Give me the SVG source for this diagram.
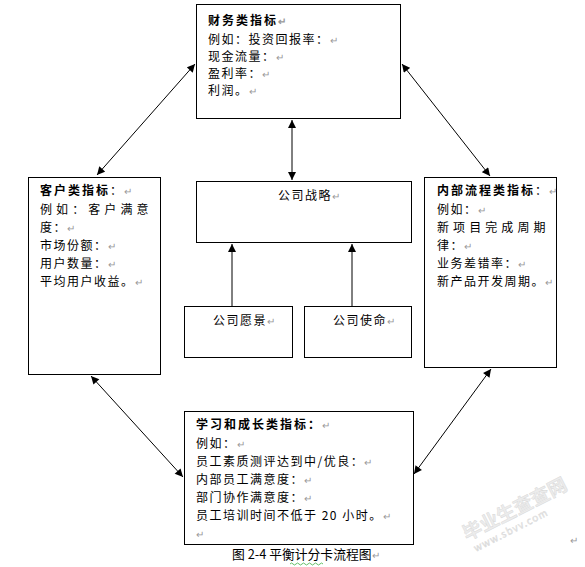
<svg xmlns="http://www.w3.org/2000/svg" width="585" height="567" viewBox="0 0 585 567">
<style>
.box{fill:#fff;stroke:#000;stroke-width:1}
.t{font-family:"Noto Sans CJK SC","Noto Sans CJK JP",sans-serif;font-size:12px;fill:#000;letter-spacing:1.5px}
.b{font-weight:bold;letter-spacing:2px}
.pm{fill:#999;font-size:10px;letter-spacing:0}
.con{stroke:#000;stroke-width:1;fill:none}
.wm{font-family:"Noto Sans CJK SC",sans-serif;fill:#ececec;stroke:#d6d6d6;stroke-width:0.4}
</style>
<defs>
<marker id="ah" viewBox="0 0 10 10" refX="10" refY="5" markerWidth="9" markerHeight="8" markerUnits="userSpaceOnUse" orient="auto-start-reverse">
<path d="M0,0 L10,5 L0,10 z" fill="#000"/>
</marker>
</defs>
<rect width="585" height="567" fill="#fff"/>

<g id="connectors">
<line class="con" x1="292" y1="120" x2="292" y2="180" marker-start="url(#ah)" marker-end="url(#ah)"/>
<line class="con" x1="97" y1="175" x2="195" y2="64" marker-start="url(#ah)" marker-end="url(#ah)"/>
<line class="con" x1="402" y1="64" x2="490" y2="176" marker-start="url(#ah)" marker-end="url(#ah)"/>
<line class="con" x1="91" y1="376" x2="183" y2="477" marker-start="url(#ah)" marker-end="url(#ah)"/>
<line class="con" x1="491" y1="369" x2="414" y2="474" marker-start="url(#ah)" marker-end="url(#ah)"/>
<line class="con" x1="232" y1="306" x2="232" y2="244" marker-end="url(#ah)"/>
<line class="con" x1="352" y1="306" x2="352" y2="244" marker-end="url(#ah)"/>
</g>

<g id="finance">
<rect class="box" x="196.5" y="4.5" width="204" height="114"/>
<text class="t b" x="208" y="25">财务类指标<tspan class="pm">↵</tspan></text>
<text class="t" x="208" y="44">例如：投资回报率：<tspan class="pm">↵</tspan></text>
<text class="t" x="208" y="61">现金流量：<tspan class="pm">↵</tspan></text>
<text class="t" x="208" y="78">盈利率：<tspan class="pm">↵</tspan></text>
<text class="t" x="208" y="95">利润。<tspan class="pm">↵</tspan></text>
</g>

<g id="customer">
<rect class="box" x="28.5" y="177.5" width="132" height="197"/>
<text class="t" x="40" y="195"><tspan class="b">客户类指标</tspan>：<tspan class="pm">↵</tspan></text>
<text class="t" x="40" y="214" textLength="110" lengthAdjust="spacing">例如：客户满意</text>
<text class="t" x="40" y="232">度：<tspan class="pm">↵</tspan></text>
<text class="t" x="40" y="250">市场份额：<tspan class="pm">↵</tspan></text>
<text class="t" x="40" y="268">用户数量：<tspan class="pm">↵</tspan></text>
<text class="t" x="40" y="286">平均用户收益。<tspan class="pm">↵</tspan></text>
</g>

<g id="process">
<rect class="box" x="424.5" y="177.5" width="132" height="190"/>
<text class="t" x="437" y="195"><tspan class="b">内部流程类指标</tspan>：<tspan class="pm">↵</tspan></text>
<text class="t" x="437" y="214">例如：<tspan class="pm">↵</tspan></text>
<text class="t" x="437" y="232" textLength="110" lengthAdjust="spacing">新项目完成周期</text>
<text class="t" x="437" y="250">律：<tspan class="pm">↵</tspan></text>
<text class="t" x="437" y="268">业务差错率：<tspan class="pm">↵</tspan></text>
<text class="t" x="437" y="286">新产品开发周期。<tspan class="pm">↵</tspan></text>
</g>

<g id="strategy">
<rect class="box" x="196.5" y="181.5" width="215" height="61"/>
<text class="t" x="278" y="200">公司战略<tspan class="pm">↵</tspan></text>
</g>

<g id="vision">
<rect class="box" x="184.5" y="306.5" width="108" height="51"/>
<text class="t" x="213" y="325">公司愿景<tspan class="pm">↵</tspan></text>
</g>

<g id="mission">
<rect class="box" x="304.5" y="306.5" width="107" height="51"/>
<text class="t" x="333" y="325">公司使命<tspan class="pm">↵</tspan></text>
</g>

<g id="learning">
<rect class="box" x="184.5" y="411.5" width="229" height="133"/>
<text class="t" x="196" y="429"><tspan class="b">学习和成长类指标：</tspan><tspan class="pm">↵</tspan></text>
<text class="t" x="196" y="448">例如：<tspan class="pm">↵</tspan></text>
<text class="t" x="196" y="466">员工素质测评达到中/优良：<tspan class="pm">↵</tspan></text>
<text class="t" x="196" y="484">内部员工满意度：<tspan class="pm">↵</tspan></text>
<text class="t" x="196" y="502">部门协作满意度：<tspan class="pm">↵</tspan></text>
<text class="t" x="196" y="520">员工培训时间不低于 20 小时。<tspan class="pm">↵</tspan></text>
<text class="t pm" x="196" y="538">↵</text>
</g>

<g id="caption">
<text x="232" y="559" style="font-family:'Noto Sans CJK SC',sans-serif;font-size:12.8px;fill:#000">图 2-4 平衡计分卡流程图<tspan class="pm" style="font-family:'Noto Sans CJK SC',sans-serif">↵</tspan></text>
<path d="M290,564 q1.5,-2 3,0 t3,0 t3,0 t3,0 t3,0 t3,0 t3,0 t3,0 t3,0 t3,0 t3,0" fill="none" stroke="#3cb043" stroke-width="0.8"/>
</g>

<g id="watermark">
<text class="wm" x="467" y="541" font-size="19" font-weight="bold" transform="rotate(-27 467 541)">毕业生查查网</text>
<text class="wm" x="476" y="552" font-size="10" transform="rotate(-27 476 552)" style="letter-spacing:1px">www.sbvv.com</text>
<text x="570" y="544" style="font-family:'Noto Sans CJK SC',sans-serif;font-size:10px;fill:#999">↵</text>
</g>
</svg>
